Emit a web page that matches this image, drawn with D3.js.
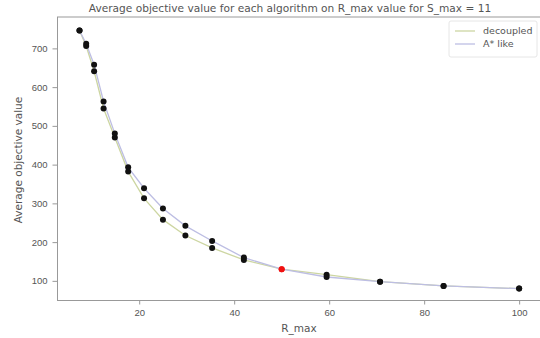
<!DOCTYPE html>
<html>
<head>
<meta charset="utf-8">
<script src="https://cdn.jsdelivr.net/npm/d3@7"></script>
<style>
  body { margin: 0; background: #fff; }
  svg { display: block; font-family: 'DejaVu Sans', sans-serif; }
</style>
</head>
<body>
<svg id="chart" width="540" height="338"></svg>
<script>
const rMax = [7.43, 8.84, 10.51, 12.5, 14.87, 17.68, 21.02, 25, 29.73, 35.36, 42.04, 50, 59.46, 70.71, 84.09, 100];
const decoupled = [746, 706, 641, 545, 470, 382, 313, 258, 217, 185, 154, 130, 116, 98, 87, 80];
const aStarLike = [746, 712, 658, 563, 480, 393, 339, 287, 242, 203, 160, 130, 110, 98, 87, 80];
const highlightIndex = 11;
const xTicks = [20, 40, 60, 80, 100];
const yTicks = [100, 200, 300, 400, 500, 600, 700];

const series = [
  { name: 'decoupled', values: decoupled, color: '#cdd6a2' },
  { name: 'A* like', values: aStarLike, color: '#bdbee3' }
];

const margin = { top: 17, right: -1, bottom: 37.5, left: 57.5 };
const width = 540 - margin.left - margin.right;
const height = 338 - margin.top - margin.bottom;
const axisColor = '#999';
const textColor = '#555';

const svg = d3.select('#chart');

const x = d3.scaleLinear().domain([2.8, 104.6]).range([margin.left, margin.left + width]);
const y = d3.scaleLinear().domain([49.3, 781]).range([margin.top + height, margin.top]);

// frame
svg.append('rect')
  .attr('x', margin.left)
  .attr('y', margin.top)
  .attr('width', width)
  .attr('height', height)
  .attr('fill', 'none')
  .attr('stroke', axisColor)
  .attr('stroke-width', 1);

// axes
const xAxis = svg.append('g')
  .attr('transform', `translate(0,${margin.top + height})`)
  .call(d3.axisBottom(x).tickValues(xTicks).tickSize(4).tickPadding(5));
const yAxis = svg.append('g')
  .attr('transform', `translate(${margin.left},0)`)
  .call(d3.axisLeft(y).tickValues(yTicks).tickSize(5).tickPadding(5));

[xAxis, yAxis].forEach((a) => {
  a.select('.domain').remove();
  a.selectAll('line').attr('stroke', axisColor);
  a.selectAll('text').attr('fill', textColor).attr('font-size', '9.5px');
});

// lines
const line = d3.line()
  .x((d, i) => x(rMax[i]))
  .y((d) => y(d));

series.forEach((s) => {
  svg.append('path')
    .datum(s.values)
    .attr('fill', 'none')
    .attr('stroke', s.color)
    .attr('stroke-width', 1.3)
    .attr('d', line);
});

// markers
series.forEach((s) => {
  svg.append('g')
    .selectAll('circle')
    .data(s.values)
    .enter()
    .append('circle')
    .attr('cx', (d, i) => x(rMax[i]))
    .attr('cy', (d) => y(d))
    .attr('r', 3)
    .attr('fill', (d, i) => (i === highlightIndex ? '#f01010' : '#111'));
});

// title and labels
svg.append('text')
  .attr('x', 290)
  .attr('y', 12)
  .attr('text-anchor', 'middle')
  .attr('fill', textColor)
  .attr('font-size', '10.6px')
  .text('Average objective value for each algorithm on R_max value for S_max = 11');

svg.append('text')
  .attr('x', 299)
  .attr('y', 332)
  .attr('text-anchor', 'middle')
  .attr('fill', textColor)
  .attr('font-size', '10.5px')
  .text('R_max');

svg.append('text')
  .attr('transform', 'translate(22,160) rotate(-90)')
  .attr('text-anchor', 'middle')
  .attr('fill', textColor)
  .attr('font-size', '10.5px')
  .text('Average objective value');

// legend
const legend = svg.append('g').attr('transform', 'translate(449,21)');
legend.append('rect')
  .attr('width', 88)
  .attr('height', 36)
  .attr('rx', 2)
  .attr('fill', '#fff')
  .attr('fill-opacity', 0.8)
  .attr('stroke', '#e6e6e6');
series.forEach((s, i) => {
  const row = legend.append('g').attr('transform', `translate(6,${10 + i * 13})`);
  row.append('line')
    .attr('x1', 0).attr('x2', 20)
    .attr('stroke', s.color)
    .attr('stroke-width', 1.3);
  row.append('text')
    .attr('x', 28)
    .attr('dy', '0.35em')
    .attr('fill', textColor)
    .attr('font-size', '9.5px')
    .text(s.name);
});
</script>
</body>
</html>
